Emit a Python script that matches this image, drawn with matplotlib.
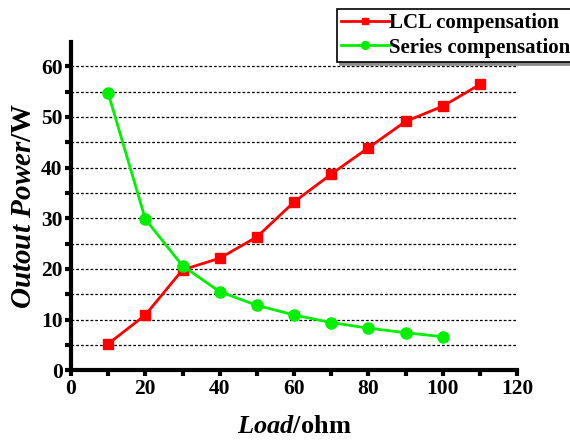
import matplotlib
matplotlib.use('Agg')
import matplotlib.pyplot as plt
from matplotlib.ticker import MultipleLocator

# Data
load_lcl = [10, 20, 30, 40, 50, 60, 70, 80, 90, 100, 110]
power_lcl = [5.2, 10.9, 19.8, 22.1, 26.3, 33.2, 38.7, 43.9, 49.1, 52.1, 56.4]
load_series = [10, 20, 30, 40, 50, 60, 70, 80, 90, 100]
power_series = [54.7, 29.8, 20.6, 15.5, 12.8, 10.9, 9.4, 8.3, 7.4, 6.6]

plt.rcParams['font.family'] = 'Liberation Serif'
plt.rcParams['font.weight'] = 'bold'
plt.rcParams['mathtext.fontset'] = 'custom'
plt.rcParams['mathtext.it'] = 'Liberation Serif:bold:italic'
plt.rcParams['mathtext.rm'] = 'Liberation Serif:bold'

fig = plt.figure(figsize=(5.7, 4.46), dpi=100)
ax = fig.add_axes([0.1246, 0.170, 0.7825, 0.736])

ax.plot(load_lcl, power_lcl, color='#ff0000', marker='s', markersize=7, linewidth=2, label='LCL compensation')
ax.plot(load_series, power_series, color='#00f000', marker='o', markersize=8, linewidth=2, label='Series compensation')

ax.set_xlim(0, 120)
ax.set_ylim(0, 64.8)
ax.xaxis.set_major_locator(MultipleLocator(20))
ax.xaxis.set_minor_locator(MultipleLocator(10))
ax.yaxis.set_major_locator(MultipleLocator(10))
ax.yaxis.set_minor_locator(MultipleLocator(5))

# dashed grid every 5
ax.grid(True, which='both', axis='y', linestyle=(0, (2.2, 1.6)), color='black', linewidth=0.9)
ax.set_axisbelow(True)

ax.spines['top'].set_visible(False)
ax.spines['right'].set_visible(False)
ax.spines['left'].set_linewidth(3)
ax.spines['bottom'].set_linewidth(3)
ax.tick_params(which='major', direction='out', length=4, width=3, labelsize=15.5, pad=2)
ax.tick_params(which='minor', direction='out', length=4, width=3)
for lab in ax.get_xticklabels() + ax.get_yticklabels():
    lab.set_fontweight('bold')

ax.set_xlabel(r'$\mathit{Load}$/ohm', fontsize=19, fontweight='bold', labelpad=12)
ax.set_ylabel(r'$\mathit{Outout\ Power}$/W', fontsize=21, fontweight='bold', labelpad=3)

leg = fig.legend(loc='upper left', bbox_to_anchor=(337 / 570, 1 - 9 / 446), fontsize=15,
                 frameon=True, fancybox=False, shadow={'color': '0.55', 'alpha': 1},
                 edgecolor='black', markerscale=0.7,
                 handlelength=2.3, handletextpad=0.0, borderpad=0.2, labelspacing=0.22,
                 borderaxespad=0)
leg.get_frame().set_linewidth(1.2)

plt.savefig('out.png', dpi=100)
